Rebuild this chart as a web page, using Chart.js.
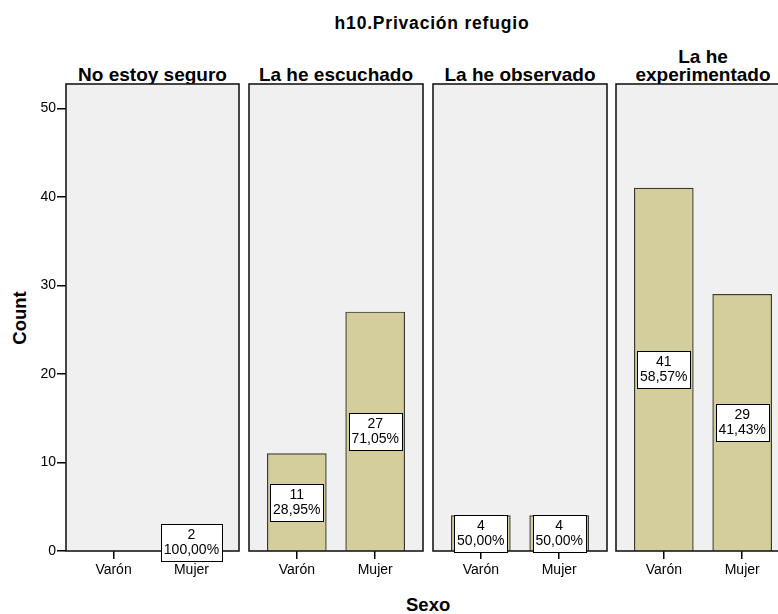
<!DOCTYPE html>
<html>
<head>
<meta charset="utf-8">
<script src="https://cdn.jsdelivr.net/npm/chart.js@4.4.1/dist/chart.umd.min.js"></script>
<style>
  html, body { margin: 0; padding: 0; background: #fff; width: 778px; height: 614px; overflow: hidden; }
  #wrap { position: relative; width: 778px; height: 614px; overflow: hidden;
          font-family: Arial, "Liberation Sans", sans-serif; color: #000; }
  #wrap canvas { position: absolute; }
  .txt { position: absolute; font-weight: bold; white-space: nowrap; }
  .panelTitle { position: absolute; bottom: 530px; text-align: center; font-size: 19px;
                line-height: 18px; font-weight: bold; white-space: nowrap; }
</style>
</head>
<body>
<div id="wrap"></div>
<script>
// ---- data ----
const chartTitle = 'h10.Privación refugio';
const groups = [['No estoy seguro'], ['La he escuchado'], ['La he observado'], ['La he', 'experimentado']];
const sexes = ['Varón', 'Mujer'];
const countVaron = [0, 11, 4, 41];
const countMujer = [2, 27, 4, 29];
const yTicks = [0, 10, 20, 30, 40, 50];
const yMax = 52.75;
const yTitle = 'Count';
const xTitle = 'Sexo';

// ---- layout ----
const FONT = 'Arial, "Liberation Sans", sans-serif';
const panelLeft = [66, 249, 433, 616];
const panelWidth = [173, 174, 174, 174];
const panelTop = 84;
const panelBottom = 551;
const xAxisHeight = 30;

const wrap = document.getElementById('wrap');

function addText(text, css) {
  const d = document.createElement('div');
  d.className = 'txt';
  d.textContent = text;
  Object.assign(d.style, css);
  wrap.appendChild(d);
  return d;
}

addText(chartTitle, { left: '0px', width: '864px', textAlign: 'center', top: '13px', fontSize: '17.5px',
                      lineHeight: '20px', letterSpacing: '0.8px' });
addText(xTitle, { left: '406px', top: '595px', fontSize: '18.5px', lineHeight: '20px' });
addText(yTitle, { left: '-20px', top: '307.5px', width: '80px', textAlign: 'center', fontSize: '18.5px',
                  lineHeight: '20px', transform: 'rotate(-90deg)' });

// panel background, frame and value boxes
const panelDecor = {
  id: 'panelDecor',
  beforeDraw(chart) {
    const { ctx, chartArea: a } = chart;
    ctx.save();
    ctx.fillStyle = '#f0f0f0';
    ctx.fillRect(a.left, a.top, a.right - a.left, a.bottom - a.top);
    ctx.restore();
  },
  afterDatasetsDraw(chart) {
    const { ctx, chartArea: a } = chart;
    ctx.save();
    ctx.strokeStyle = '#1a1a1a';
    ctx.lineWidth = 1.6;
    ctx.strokeRect(a.left, a.top, a.right - a.left, a.bottom - a.top);

    const ys = chart.scales.y;
    const meta = chart.getDatasetMeta(0);
    const pts = chart.data.datasets[0].data;
    const total = pts.reduce((s, p) => s + p.y, 0);
    ctx.font = '14px ' + FONT;
    ctx.textAlign = 'center';
    ctx.textBaseline = 'middle';
    meta.data.forEach((bar, k) => {
      const v = pts[k].y;
      if (!v) return;
      const pct = (v / total * 100).toFixed(2).replace('.', ',') + '%';
      const yc = ys.getPixelForValue(v / 2);
      const w = Math.round(Math.max(ctx.measureText(pct).width, ctx.measureText(String(v)).width) + 6);
      const h = 37;
      const x0 = Math.round(bar.x - w / 2) + 0.5;
      const y0 = Math.round(yc - h / 2) + 0.5;
      ctx.fillStyle = '#fff';
      ctx.fillRect(x0, y0, w, h);
      ctx.strokeStyle = '#000';
      ctx.lineWidth = 1;
      ctx.strokeRect(x0, y0, w, h);
      ctx.fillStyle = '#000';
      ctx.fillText(String(v), bar.x, yc - 7.5);
      ctx.fillText(pct, bar.x, yc + 7.5);
    });
    ctx.restore();
  }
};

groups.forEach((g, i) => {
  const isFirst = i === 0;
  const left = isFirst ? 0 : panelLeft[i] - 2;
  const width = panelLeft[i] + panelWidth[i] + 2 - left;
  const top = panelTop - 2;
  const height = panelBottom + xAxisHeight - top;

  const t = document.createElement('div');
  t.className = 'panelTitle';
  t.style.left = panelLeft[i] + 'px';
  t.style.width = panelWidth[i] + 'px';
  g.forEach((line, n) => {
    if (n) t.appendChild(document.createElement('br'));
    t.appendChild(document.createTextNode(line));
  });
  wrap.appendChild(t);

  const c = document.createElement('canvas');
  c.width = width;
  c.height = height;
  c.style.left = left + 'px';
  c.style.top = top + 'px';
  wrap.appendChild(c);

  new Chart(c, {
    type: 'bar',
    data: {
      datasets: [{
        data: [{ x: 0, y: countVaron[i] }, { x: 1, y: countMujer[i] }],
        backgroundColor: '#d3ce9b',
        borderColor: '#3a3a30',
        borderWidth: 1.2,
        barThickness: 59
      }]
    },
    options: {
      responsive: false,
      animation: false,
      devicePixelRatio: 1,
      layout: { padding: { top: 2, right: 2, left: isFirst ? 0 : 2, bottom: 0 } },
      plugins: { legend: { display: false }, tooltip: { enabled: false }, title: { display: false } },
      scales: {
        x: {
          type: 'linear',
          offset: false,
          min: -0.61,
          max: 1.61,
          afterBuildTicks: s => { s.ticks = sexes.map((_, k) => ({ value: k })); },
          afterFit: s => { s.height = xAxisHeight; s.paddingLeft = 0; s.paddingRight = 0; },
          ticks: {
            callback: v => sexes[v] ?? '',
            font: { size: 14, family: FONT },
            color: '#000',
            padding: 3,
            maxRotation: 0,
            autoSkip: false
          },
          grid: { display: true, offset: false, drawOnChartArea: false, drawTicks: true, tickLength: 8,
                  color: '#000', lineWidth: 1.5 },
          border: { display: false }
        },
        y: {
          display: isFirst,
          min: 0,
          max: yMax,
          afterBuildTicks: s => { s.ticks = yTicks.map(v => ({ value: v })); },
          afterFit: s => {
            if (isFirst) s.width = panelLeft[0];
            s.paddingTop = 0;
            s.paddingBottom = 0;
          },
          ticks: { font: { size: 14, family: FONT }, color: '#000', padding: 1 },
          grid: { display: true, drawOnChartArea: false, drawTicks: true, tickLength: 9, color: '#000', lineWidth: 1.5 },
          border: { display: false }
        }
      }
    },
    plugins: [panelDecor]
  });
});
</script>
</body>
</html>
